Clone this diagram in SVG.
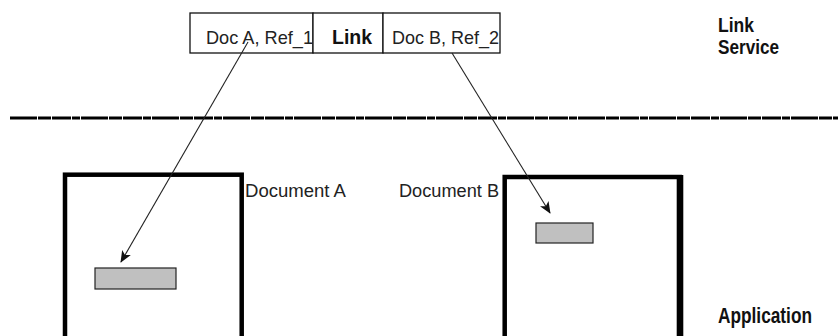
<svg xmlns="http://www.w3.org/2000/svg" width="838" height="336" viewBox="0 0 838 336">
  <defs>
    <style>
      .cell { fill: #ffffff; stroke: #111; stroke-width: 1.3; }
      .t { font-family: "Liberation Sans", Arial, sans-serif; fill: #222; }
      .b { font-family: "Liberation Sans", Arial, sans-serif; font-weight: bold; fill: #111; }
      .doc { fill: none; stroke: #000; stroke-width: 4.5; }
      .ref { fill: #c0c0c0; stroke: #222; stroke-width: 1.2; }
      .conn { stroke: #222; stroke-width: 1.1; fill: none; marker-end: url(#ah); }
    </style>
    <marker id="ah" viewBox="0 0 12 10" refX="11" refY="5" markerWidth="12" markerHeight="10" markerUnits="userSpaceOnUse" orient="auto">
      <path d="M0,0 L12,5 L0,10 L3,5 Z" fill="#111"/>
    </marker>
  </defs>
  <rect width="838" height="336" fill="#ffffff"/>

  <g id="link-record">
    <rect class="cell" x="190" y="13" width="123" height="40"/>
    <rect class="cell" x="313" y="13" width="70" height="40"/>
    <rect class="cell" x="383" y="13" width="117" height="40"/>
    <text class="t" x="206" y="44" font-size="19" textLength="107" lengthAdjust="spacingAndGlyphs">Doc A, Ref_1</text>
    <text class="b" x="332" y="44" font-size="19.5">Link</text>
    <text class="t" x="392" y="44" font-size="19" textLength="107" lengthAdjust="spacingAndGlyphs">Doc B, Ref_2</text>
  </g>

  <g id="label-link-service">
    <text class="b" x="718" y="32" font-size="21" textLength="36" lengthAdjust="spacingAndGlyphs">Link</text>
    <text class="b" x="718" y="54" font-size="21" textLength="61" lengthAdjust="spacingAndGlyphs">Service</text>
  </g>

  <g id="separator">
    <line x1="10" y1="118" x2="838" y2="118" stroke="#000" stroke-width="3" stroke-dasharray="27 1 13 1 19 1 8 1"/>
  </g>

  <g id="document-a">
    <rect class="doc" x="65" y="174.7" width="176.7" height="180"/>
    <rect class="ref" x="95" y="268" width="81" height="21"/>
    <text class="t" x="245" y="197" font-size="18" textLength="101" lengthAdjust="spacingAndGlyphs">Document A</text>
  </g>

  <g id="document-b">
    <rect class="doc" x="504.7" y="177" width="175" height="180"/>
    <line x1="680" y1="175" x2="680" y2="336" stroke="#000" stroke-width="6.6"/>
    <rect class="ref" x="536" y="223" width="57" height="20"/>
    <text class="t" x="399" y="197" font-size="18" textLength="100" lengthAdjust="spacingAndGlyphs">Document B</text>
  </g>

  <g id="label-application">
    <text class="b" x="718" y="323" font-size="22" textLength="94" lengthAdjust="spacingAndGlyphs">Application</text>
  </g>

  <g id="connectors">
    <line class="conn" x1="248" y1="42" x2="121" y2="262"/>
    <line class="conn" x1="452" y1="53" x2="550" y2="213"/>
  </g>
</svg>
